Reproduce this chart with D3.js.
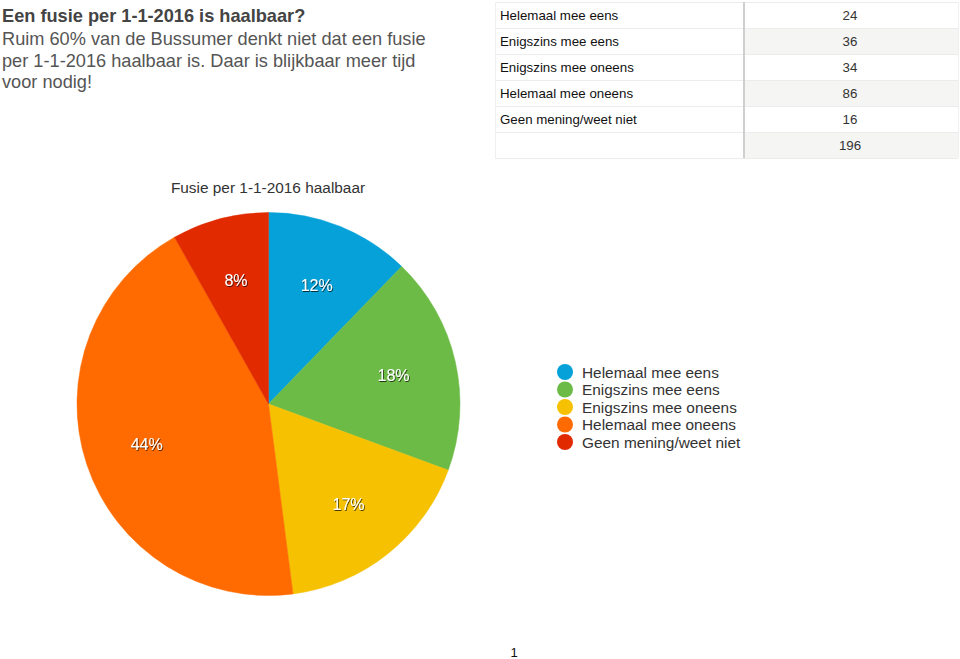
<!DOCTYPE html>
<html><head><meta charset="utf-8">
<script src="https://cdn.jsdelivr.net/npm/d3@7"></script>
<style>body{margin:0;background:#fff;} svg{display:block;}</style>
</head><body>
<svg id="c" width="960" height="659"></svg>
<script>
const categories = ["Helemaal mee eens","Enigszins mee eens","Enigszins mee oneens","Helemaal mee oneens","Geen mening/weet niet"];
const values = [24, 36, 34, 86, 16];
const total = 196;
const colors = ["#05a1d8","#6dbb47","#f5c100","#ff6b00","#e12a00"];
const titleLines = ["Ruim 60% van de Bussumer denkt niet dat een fusie","per 1-1-2016 haalbaar is. Daar is blijkbaar meer tijd","voor nodig!"];

const svg = d3.select("#c");
const font = "'Liberation Sans', Arial, Helvetica, sans-serif";

const defs = svg.append("defs");
const f = defs.append("filter").attr("id","sh").attr("x","-20%").attr("y","-20%").attr("width","140%").attr("height","140%");
f.append("feDropShadow").attr("dx",0.8).attr("dy",1).attr("stdDeviation",0.6).attr("flood-color","#000").attr("flood-opacity",0.7);

// Title text
svg.append("text").attr("x",2).attr("y",22).attr("font-family",font).attr("font-size",18.2)
  .attr("font-weight","bold").attr("fill","#444").text("Een fusie per 1-1-2016 is haalbaar?");
titleLines.forEach((t,i)=>{
  svg.append("text").attr("x",2).attr("y",45+i*21.5).attr("font-family",font).attr("font-size",18.2)
    .attr("fill","#555").text(t);
});

// Table
const tx0=495, tx1=744, tx2=958, ty0=2, rh=26;
const rows = categories.map((c,i)=>({label:c, value:values[i]})).concat([{label:"", value:total}]);
const tbl = svg.append("g");
rows.forEach((r,i)=>{
  const y = ty0 + i*rh;
  if(i%2===1){
    tbl.append("rect").attr("x",tx1+1).attr("y",y).attr("width",tx2-tx1-1).attr("height",rh).attr("fill","#f5f5f3");
  }
  tbl.append("line").attr("x1",tx0).attr("x2",tx2).attr("y1",y+0.5).attr("y2",y+0.5).attr("stroke","#ececec");
  tbl.append("text").attr("x",tx0+5).attr("y",y+18).attr("font-family",font).attr("font-size",13.3)
    .attr("fill","#111").text(r.label);
  tbl.append("text").attr("x",850).attr("y",y+18).attr("text-anchor","middle").attr("font-family",font)
    .attr("font-size",13.3).attr("fill","#333").text(r.value);
});
tbl.append("line").attr("x1",tx0).attr("x2",tx2).attr("y1",ty0+rows.length*rh+0.5).attr("y2",ty0+rows.length*rh+0.5).attr("stroke","#ececec");
tbl.append("line").attr("x1",tx0+0.5).attr("x2",tx0+0.5).attr("y1",ty0).attr("y2",ty0+rows.length*rh).attr("stroke","#f0f0f0");
tbl.append("line").attr("x1",tx2+0.5).attr("x2",tx2+0.5).attr("y1",ty0).attr("y2",ty0+rows.length*rh).attr("stroke","#f0f0f0");
tbl.append("line").attr("x1",tx1).attr("x2",tx1).attr("y1",ty0).attr("y2",ty0+rows.length*rh).attr("stroke","#cfcfcf").attr("stroke-width",2);

// Chart title
svg.append("text").attr("x",268).attr("y",193).attr("text-anchor","middle").attr("font-family",font)
  .attr("font-size",15.4).attr("fill","#333").text("Fusie per 1-1-2016 haalbaar");

// Pie
const cx=268.5, cy=404, R=191.5;
const pie = d3.pie().sort(null).value(d=>d)(values);
const arc = d3.arc().innerRadius(0).outerRadius(R);
const labelArc = d3.arc().innerRadius(R*0.67).outerRadius(R*0.67);
const g = svg.append("g").attr("transform",`translate(${cx},${cy})`);
g.selectAll("path").data(pie).join("path").attr("d",arc).attr("fill",(d,i)=>colors[i])
  .attr("stroke",(d,i)=>colors[i]).attr("stroke-width",0.5);
g.selectAll("text.l").data(pie).join("text").attr("class","l")
  .attr("transform",d=>`translate(${labelArc.centroid(d)})`)
  .attr("text-anchor","middle").attr("dy","0.35em")
  .attr("font-family",font).attr("font-size",16).attr("fill","#fff").attr("filter","url(#sh)")
  .text(d=>Math.round(d.data/total*100)+"%");

// Legend
const lg = svg.append("g").attr("transform","translate(565,372)");
categories.forEach((c,i)=>{
  const y=i*17.5;
  lg.append("circle").attr("cx",0).attr("cy",y).attr("r",8).attr("fill",colors[i]);
  lg.append("text").attr("x",17).attr("y",y+5.5).attr("font-family",font).attr("font-size",15.4).attr("fill","#333").text(c);
});

// Page number
svg.append("text").attr("x",514).attr("y",657).attr("text-anchor","middle").attr("font-family",font)
  .attr("font-size",13).attr("fill","#111").text("1");
</script>
</body></html>
